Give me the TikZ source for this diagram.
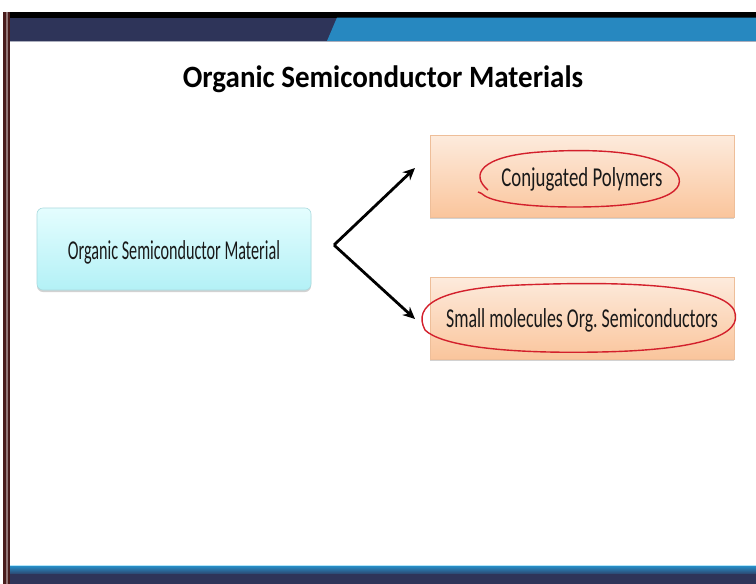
\documentclass[tikz,border=0pt]{standalone}
\usepackage{fontspec}
\setmainfont{Carlito}
\usetikzlibrary{arrows.meta,shadows}
\definecolor{navy}{HTML}{2E3459}
\definecolor{skyband}{HTML}{2788C0}
\definecolor{maroon}{HTML}{4A1C1C}
\definecolor{cyantop}{HTML}{E4FDFE}
\definecolor{cyanbot}{HTML}{B3F1F6}
\definecolor{peachtop}{HTML}{FDEBDD}
\definecolor{peachbot}{HTML}{FAC59C}
\definecolor{inkred}{HTML}{D3202C}
\tikzset{
  cyanbox/.style={draw=cyanbot!80!gray, line width=0.6pt, rounded corners=6pt, top color=cyantop, bottom color=cyanbot, minimum width=274pt, minimum height=82pt, drop shadow={shadow xshift=0pt, shadow yshift=-2pt, opacity=0.35}},
  peachbox/.style={draw=peachbot!90!gray, line width=0.6pt, top color=peachtop, bottom color=peachbot, minimum width=304pt, minimum height=82pt, drop shadow={shadow xshift=0pt, shadow yshift=-2pt, opacity=0.35}},
  arr/.style={-{Stealth[length=12pt,width=11pt]}, line width=2.8pt, black},
  circ/.style={draw=inkred, line width=1.4pt},
  boxtext/.style={font=\fontsize{18.8}{22}\selectfont, text=black!90, anchor=base, yscale=1.45, inner sep=0pt}
}
\begin{document}
\begin{tikzpicture}[x=1pt,y=-1pt]
\useasboundingbox (0,0) rectangle (756,584);
\fill[white] (0,0) rectangle (756,584);
% top bands
\fill[black] (5,12) rectangle (756,17.5);
\fill[navy] (9,17.5) rectangle (337,41);
\fill[skyband] (337,17.5) -- (756,17.5) -- (756,41) -- (327,41) -- cycle;
\fill[navy!40] (9,41) rectangle (756,42);
% bottom bands
\fill[cyan!30] (9,565) rectangle (756,566.5);
\shade[top color=skyband, bottom color=navy!80!skyband] (9,566.5) rectangle (756,574);
\fill[navy] (9,574) rectangle (756,584);
% left bar
\fill[maroon] (3,12) rectangle (10,584);
\fill[maroon!60!white] (6,12) rectangle (7.5,584);
% title
\node[font=\fontsize{29}{34}\selectfont\bfseries, anchor=base, yscale=1.07, inner sep=0pt] (title) at (383,87) {Organic Semiconductor Materials};
% boxes
\node[cyanbox] (src) at (174,249) {};
\node[boxtext, xscale=0.86] (srct) at (174,259) {Organic Semiconductor Material};
\node[peachbox] (cp) at (582,176) {};
\node[boxtext] (cpt) at (582,186) {Conjugated Polymers};
\node[peachbox] (sm) at (582,318) {};
\node[boxtext, xscale=0.95] (smt) at (582,327) {Small molecules Org.\ Semiconductors};
% arrows
\coordinate (fork) at (334,245);
\coordinate (up) at (415,168);
\coordinate (dn) at (415,319);
\draw[arr] (fork) -- (up);
\draw[arr] (fork) -- (dn);
% hand-drawn circles
\draw[circ] (488,190) .. controls (470,175) and (480,156) .. (540,152)
  .. controls (610,147) and (672,155) .. (679,178)
  .. controls (684,198) and (640,207) .. (575,207)
  .. controls (525,207) and (495,202) .. (485,196)
  .. controls (482,194) and (480,192) .. (478,192);
\draw[circ] (425,330) .. controls (412,305) and (440,288) .. (520,285)
  .. controls (620,281) and (720,284) .. (734,310)
  .. controls (745,335) and (700,350) .. (600,352)
  .. controls (500,354) and (440,345) .. (425,330);
\end{tikzpicture}
\end{document}
